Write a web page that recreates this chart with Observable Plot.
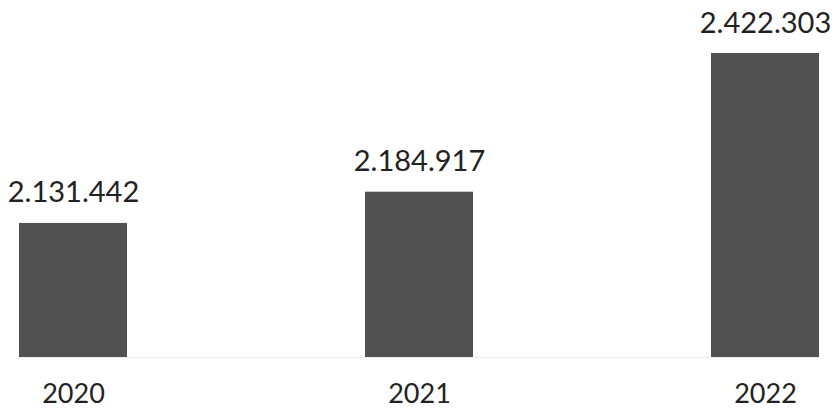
<!DOCTYPE html>
<html>
<head>
<meta charset="utf-8">
<script src="https://cdn.jsdelivr.net/npm/d3@7"></script>
<script src="https://cdn.jsdelivr.net/npm/@observablehq/plot@0.6"></script>
<style>
  html, body { margin: 0; padding: 0; background: #fff; }
  #chart svg { display: block; }
</style>
</head>
<body>
<div id="chart"></div>
<script>
const years = ["2020", "2021", "2022"];
const values = [2131442, 2184917, 2422303];
const yMin = 1902000;

const data = years.map((year, i) => ({year, value: values[i]}));
const fmt = d3.formatLocale({decimal: ",", thousands: ".", grouping: [3], currency: ["", "€"]}).format(",d");

const chart = Plot.plot({
  width: 838,
  height: 416,
  marginLeft: 18,
  marginRight: 19,
  marginTop: 53,
  marginBottom: 59,
  style: {fontFamily: "Lato, sans-serif", background: "#fff", color: "#222"},
  x: {domain: years, paddingInner: 0.688, paddingOuter: 0, label: null},
  y: {domain: [yMin, 2422303], axis: null},
  marks: [
    Plot.ruleY([yMin], {stroke: "#ececec", strokeWidth: 1}),
    Plot.barY(data, {x: "year", y1: () => yMin, y2: "value", fill: "#515151"}),
    Plot.text(data, {
      x: "year", y: "value", text: d => fmt(d.value),
      lineAnchor: "bottom", dy: -21, fontSize: 29, fill: "#222"
    }),
    Plot.axisX({tickSize: 0, tickPadding: 26, fontSize: 27, fill: "#222", label: null})
  ]
});
document.getElementById("chart").append(chart);
</script>
</body>
</html>
